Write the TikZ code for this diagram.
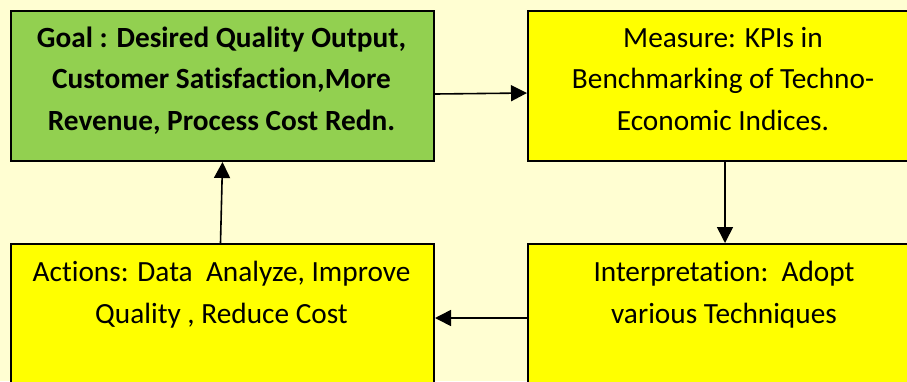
\documentclass[tikz,border=0pt]{standalone}
\usepackage{fontspec}
\setmainfont[Ligatures=NoCommon]{Carlito}
\usetikzlibrary{arrows.meta}
\definecolor{paper}{RGB}{255,254,210}
\definecolor{goalgreen}{RGB}{146,208,80}
\definecolor{stepyellow}{RGB}{255,255,0}
\tikzset{
  x=1pt, y=-1pt,
  stagebox/.style={draw=black, line width=2pt, anchor=north west, inner sep=0pt},
  label text/.style={align=center, inner sep=0pt, anchor=base, font=\fontsize{29.3}{41.5}\selectfont},
  flow/.style={draw=black, line width=1.6pt, -{Triangle[length=16pt, width=16pt]}}
}
\begin{document}
\begin{tikzpicture}
  % canvas
  \fill[paper] (0,0) rectangle (907,381);
  \useasboundingbox (0,0) rectangle (907,381);
  \clip (0,0) rectangle (907,381);

  % the four stages of the cycle
  \node[stagebox, fill=goalgreen, minimum width=423pt, minimum height=150pt] (goal) at (10,10) {};
  \node[stagebox, fill=stepyellow, minimum width=394pt, minimum height=150pt] (measure) at (527,10) {};
  \node[stagebox, fill=stepyellow, minimum width=394pt, minimum height=160pt] (interp) at (527,243) {};
  \node[stagebox, fill=stepyellow, minimum width=423pt, minimum height=160pt] (actions) at (10,243) {};

  % stage texts (anchored at the baseline of their last line)
  \node[label text, font=\fontsize{29.3}{41.5}\selectfont\bfseries] (goaltext) at (221.5,130)
    {Goal : Desired Quality Output,\\Customer Satisfaction,More\\Revenue, Process Cost Redn.};
  \node[label text] (measuretext) at (723,130)
    {Measure: KPIs in\\Benchmarking of Techno-\\Economic Indices.};
  \node[label text] (interptext) at (724,323)
    {Interpretation:\ \ Adopt\\various Techniques};
  \node[label text] (actionstext) at (221.5,323)
    {Actions: Data\ \ Analyze, Improve\\Quality , Reduce Cost};

  % connectors
  \draw[flow] ([yshift=-8pt]goal.east) -- ([yshift=-7pt]measure.west);
  \draw[flow] (measure.south) -- (interp.north);
  \draw[flow] ([yshift=6pt]interp.west) -- ([yshift=6pt]actions.east);
  \draw[flow] ([xshift=-2pt]actions.north) -- (goal.south);
\end{tikzpicture}
\end{document}
